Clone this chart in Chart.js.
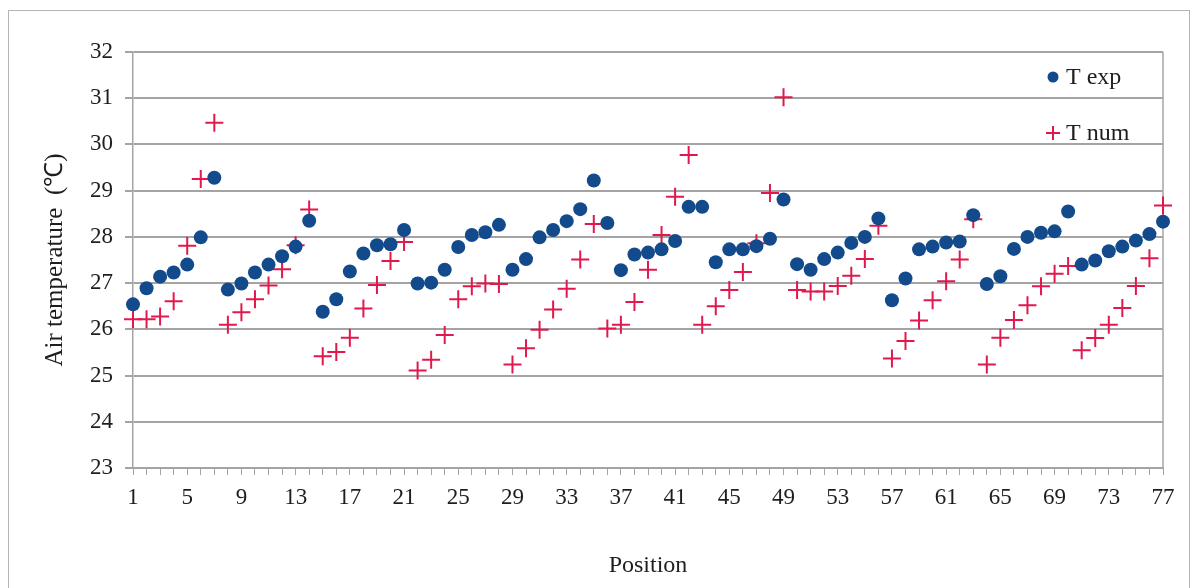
<!DOCTYPE html>
<html>
<head>
<meta charset="utf-8">
<script src="https://cdn.jsdelivr.net/npm/chart.js@4.4.1/dist/chart.umd.min.js"></script>
<style>
  html, body { margin: 0; padding: 0; background: #fff; }
  #wrap { position: relative; width: 1197px; height: 588px; overflow: hidden; }
  #frame { position: absolute; left: 8px; top: 10px; width: 1182px; height: 600px; border: 1px solid #b5b5b5; box-sizing: border-box; }
  canvas { position: absolute; left: 0; top: 0; }
</style>
</head>
<body>
<div id="wrap">
  <div id="frame"></div>
  <canvas id="c" width="1197" height="588"></canvas>
</div>
<script>
// Measurement positions along the section (1..77)
const positions = Array.from({ length: 77 }, (_, i) => String(i + 1));

// Measured air temperature (°C)
const tExp = [
  26.54, 26.89, 27.14, 27.23, 27.40, 27.99, 29.28, 26.86, 26.99, 27.23,
  27.40, 27.58, 27.79, 28.35, 26.38, 26.65, 27.25, 27.64, 27.82, 27.84,
  28.15, 26.99, 27.01, 27.29, 27.78, 28.04, 28.10, 28.26, 27.29, 27.52,
  27.99, 28.15, 28.34, 28.60, 29.22, 28.30, 27.28, 27.62, 27.66, 27.73,
  27.91, 28.65, 28.65, 27.45, 27.73, 27.73, 27.80, 27.96, 28.81, 27.41,
  27.29, 27.52, 27.66, 27.87, 28.00, 28.40, 26.63, 27.10, 27.73, 27.79,
  27.88, 27.90, 28.47, 26.98, 27.15, 27.74, 28.00, 28.09, 28.12, 28.55,
  27.40, 27.49, 27.69, 27.79, 27.92, 28.06, 28.33
];

// Simulated air temperature (°C)
const tNum = [
  26.22, 26.22, 26.28, 26.61, 27.81, 29.25, 30.47, 26.10, 26.37, 26.65,
  26.95, 27.30, 27.82, 28.59, 25.42, 25.51, 25.82, 26.45, 26.96, 27.48,
  27.89, 25.11, 25.34, 25.88, 26.65, 26.93, 26.99, 26.98, 25.24, 25.59,
  25.99, 26.43, 26.88, 27.51, 28.28, 26.02, 26.10, 26.59, 27.29, 28.04,
  28.87, 29.77, 26.10, 26.50, 26.85, 27.24, 27.86, 28.95, 31.02, 26.85,
  26.82, 26.82, 26.94, 27.16, 27.52, 28.24, 25.37, 25.75, 26.19, 26.63,
  27.04, 27.51, 28.38, 25.24, 25.82, 26.20, 26.52, 26.93, 27.20, 27.37,
  25.55, 25.81, 26.10, 26.46, 26.94, 27.54, 28.68
];

const yTicks = [23, 24, 25, 26, 27, 28, 29, 30, 31, 32];

const BLUE = '#124a8c';
const RED = '#e2184c';
const GRID = '#a4a4a4';
const TEXT = '#1e1e1e';
const FONT = '"Liberation Serif", "Times New Roman", serif';

// Right-hand frame of the plot area plus the in-plot legend
const plotDecor = {
  id: 'plotDecor',
  beforeDatasetsDraw(chart) {
    const { ctx, chartArea: a } = chart;
    ctx.save();
    ctx.strokeStyle = GRID;
    ctx.lineWidth = 1.5;
    ctx.beginPath();
    ctx.moveTo(a.right, a.top);
    ctx.lineTo(a.right, a.bottom);
    ctx.stroke();
    ctx.restore();
  },
  afterDraw(chart) {
    const { ctx, chartArea: a } = chart;
    ctx.save();
    const mx = a.right - 110;
    const tx = a.right - 97;
    const ds = chart.data.datasets;
    ctx.font = '24px ' + FONT;
    ctx.textBaseline = 'middle';

    // circle marker
    let y = a.top + 25;
    ctx.beginPath();
    ctx.arc(mx, y, 5.5, 0, Math.PI * 2);
    ctx.fillStyle = ds[0].backgroundColor;
    ctx.fill();
    ctx.fillStyle = TEXT;
    ctx.fillText(ds[0].label, tx, y + 1);

    // cross marker
    y = a.top + 81;
    ctx.strokeStyle = ds[1].borderColor;
    ctx.lineWidth = 2;
    ctx.beginPath();
    ctx.moveTo(mx - 7, y); ctx.lineTo(mx + 7, y);
    ctx.moveTo(mx, y - 7); ctx.lineTo(mx, y + 7);
    ctx.stroke();
    ctx.fillText(ds[1].label, tx, y + 1);
    ctx.restore();
  }
};

new Chart(document.getElementById('c'), {
  type: 'line',
  data: {
    labels: positions,
    datasets: [
      {
        label: 'T exp',
        data: tExp,
        showLine: false,
        clip: false,
        pointStyle: 'circle',
        pointRadius: 7,
        pointBackgroundColor: BLUE,
        pointBorderColor: BLUE,
        backgroundColor: BLUE,
        borderColor: BLUE,
        pointBorderWidth: 0
      },
      {
        label: 'T num',
        data: tNum,
        showLine: false,
        clip: false,
        pointStyle: 'cross',
        pointRadius: 9,
        pointBorderWidth: 2,
        pointBorderColor: RED,
        pointBackgroundColor: RED,
        backgroundColor: RED,
        borderColor: RED
      }
    ]
  },
  options: {
    responsive: false,
    animation: false,
    layout: { padding: { left: 30, top: 52, right: 34, bottom: 0 } },
    plugins: {
      legend: { display: false },
      tooltip: { enabled: false }
    },
    scales: {
      x: {
        type: 'category',
        offset: false,
        afterFit(s) { s.height = 120; },
        grid: {
          drawOnChartArea: false,
          drawTicks: true,
          tickLength: 7,
          color: GRID,
          lineWidth: 1
        },
        border: { display: true, color: GRID, width: 2 },
        ticks: {
          autoSkip: false,
          maxRotation: 0,
          padding: 9,
          color: TEXT,
          font: { family: FONT, size: 23 },
          callback(value, index) {
            return index % 4 === 0 ? this.getLabelForValue(value) : '';
          }
        },
        title: {
          display: true,
          text: 'Position',
          color: TEXT,
          font: { family: FONT, size: 24 },
          padding: { top: 0, bottom: 8 }
        }
      },
      y: {
        min: yTicks[0],
        max: yTicks[yTicks.length - 1],
        afterFit(s) { s.width = 103; },
        afterBuildTicks(s) { s.ticks = yTicks.map(v => ({ value: v })); },
        grid: {
          color: GRID,
          lineWidth: 2,
          tickLength: 8
        },
        border: { display: true, color: GRID, width: 1.5 },
        ticks: {
          padding: 12,
          color: TEXT,
          font: { family: FONT, size: 23 }
        },
        title: {
          display: true,
          text: 'Air temperature  (℃)',
          color: TEXT,
          font: { family: FONT, size: 25 },
          padding: { top: 10, bottom: 0 }
        }
      }
    }
  },
  plugins: [plotDecor]
});
</script>
</body>
</html>
